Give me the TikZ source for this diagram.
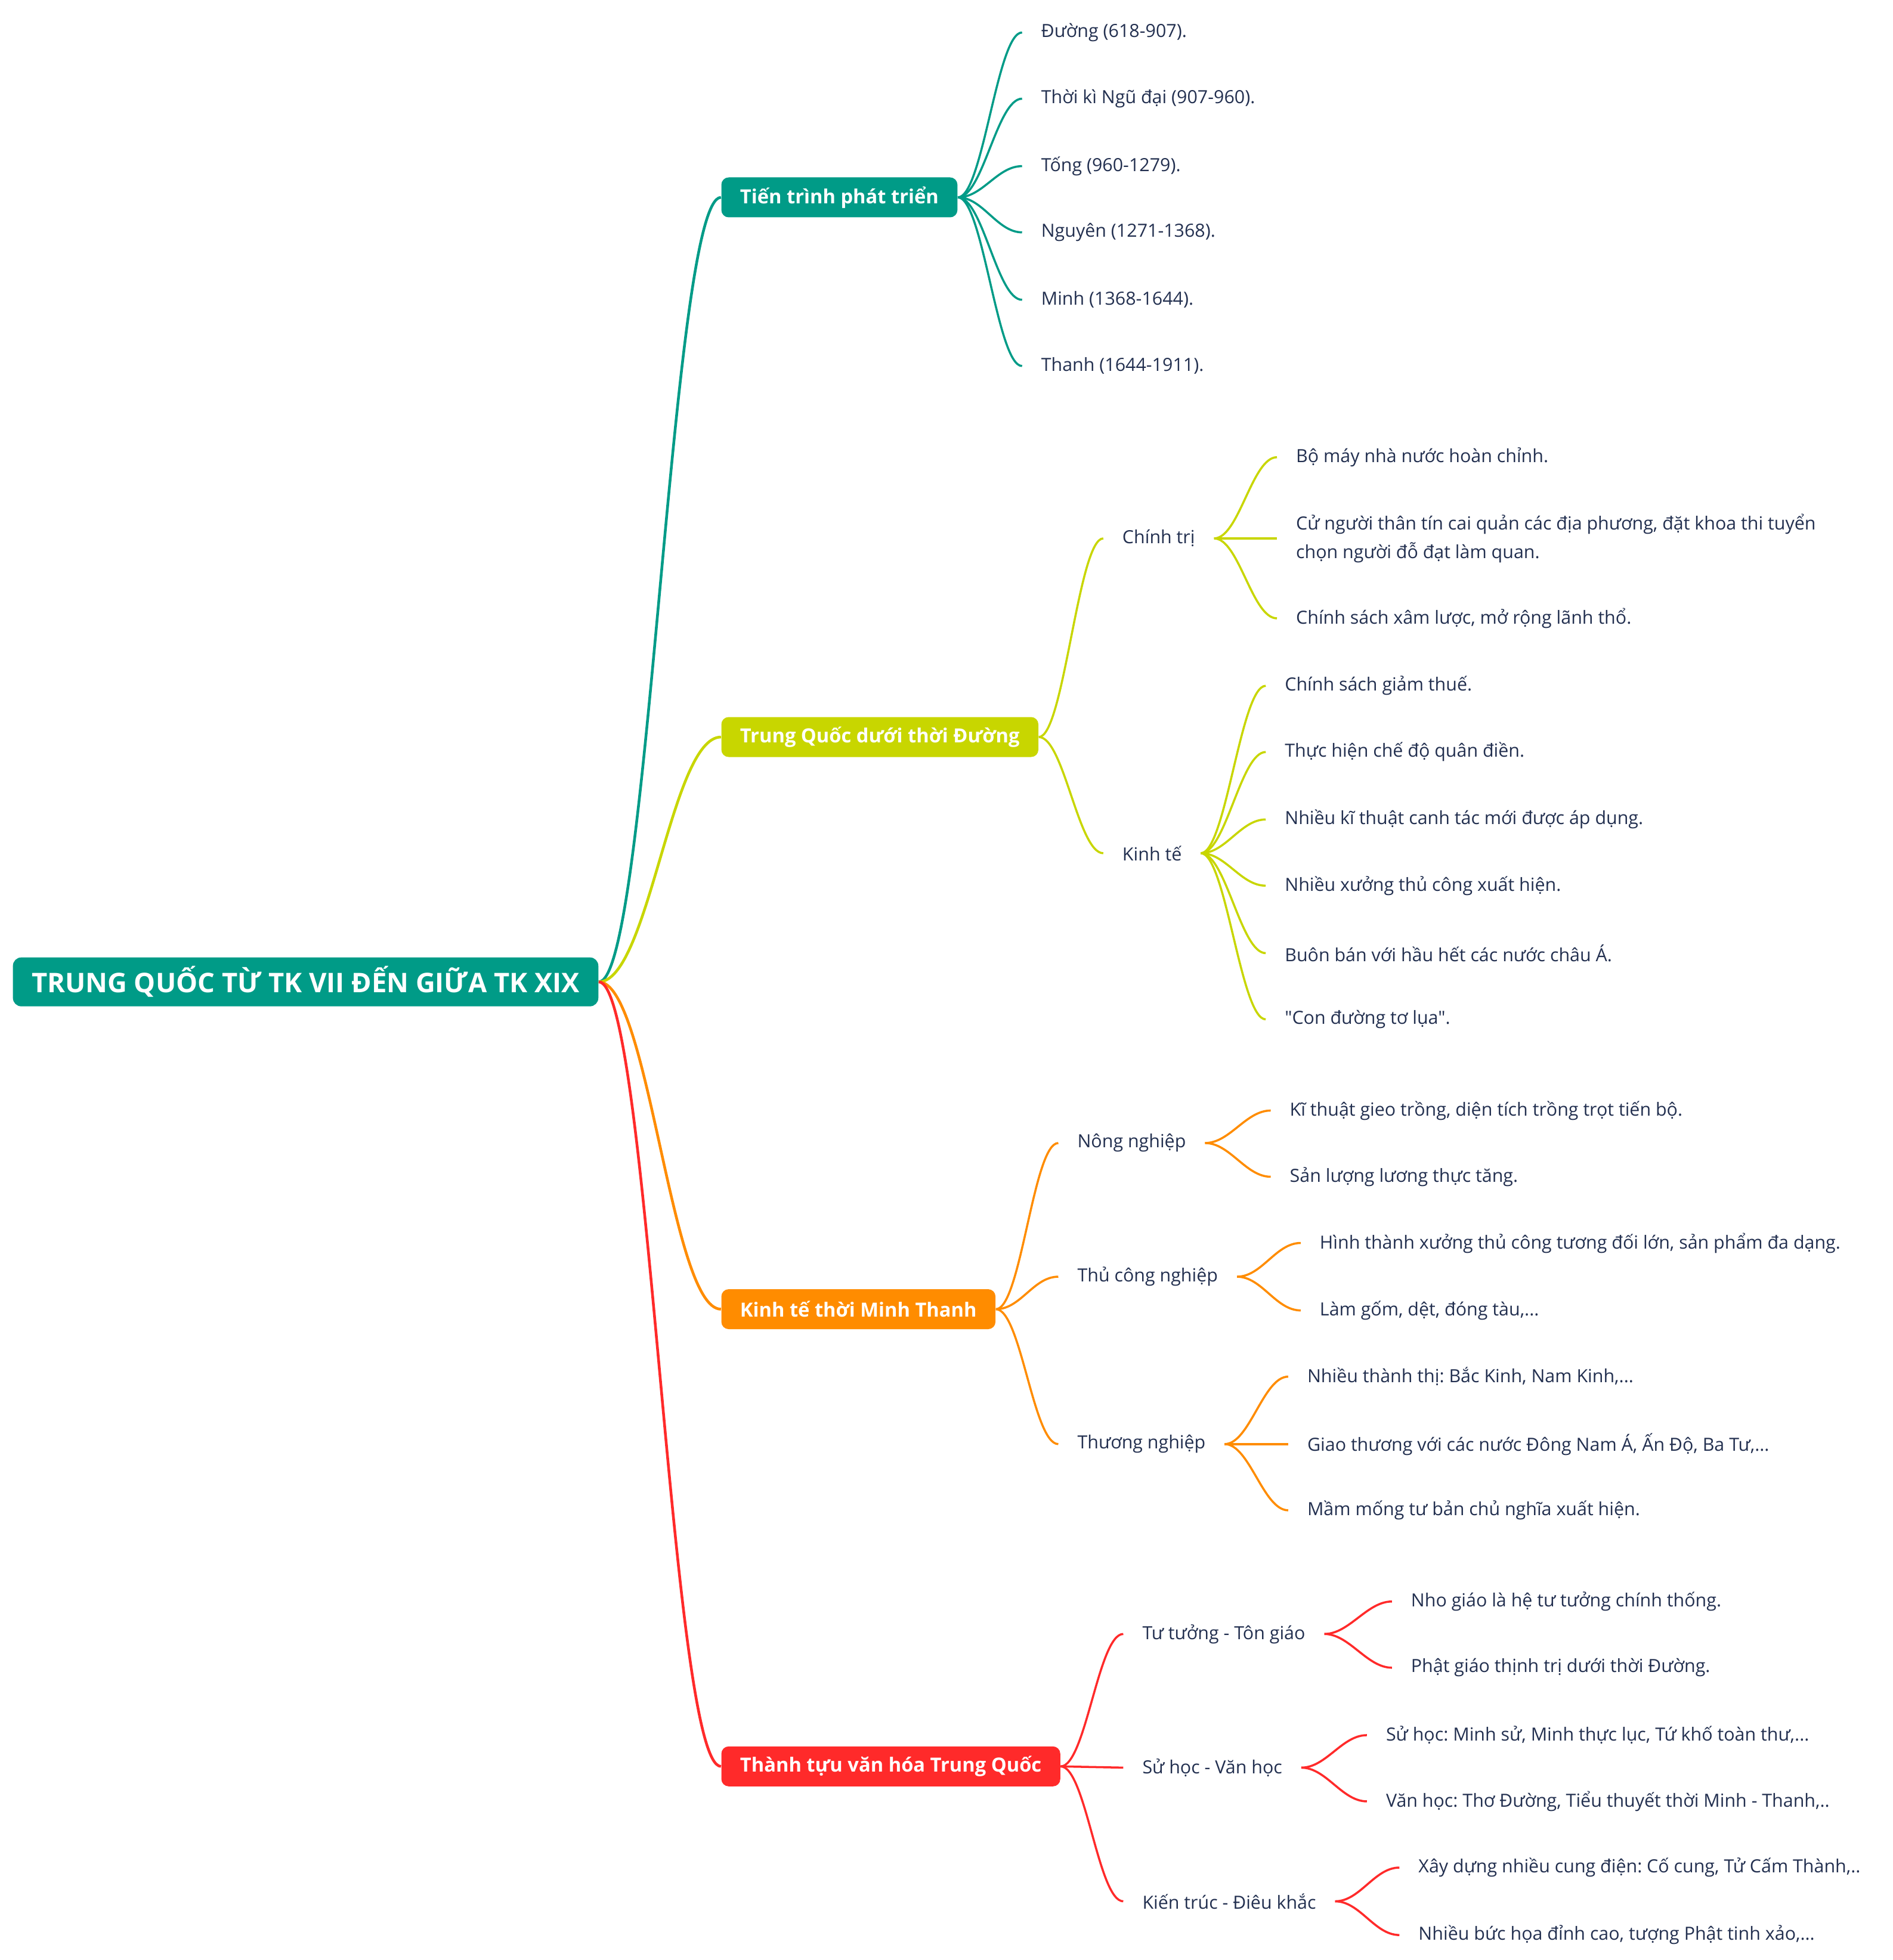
\documentclass[tikz,border=0pt]{standalone}
\usepackage{fontspec}
\setmainfont{Open Sans}[Ligatures=TeXOff]
\usepackage{tikz}
\definecolor{mtteal}{RGB}{0,155,135}
\definecolor{mtlime}{RGB}{200,214,0}
\definecolor{mtorange}{RGB}{255,140,0}
\definecolor{mtred}{RGB}{255,42,42}
\definecolor{mttext}{RGB}{35,48,80}
\frenchspacing

\begin{document}
\begin{tikzpicture}[x=0.02095cm, y=-0.02095cm,
  leaf/.style={anchor=west, text=mttext, inner xsep=0.314cm, inner ysep=1pt,
    align=left, font=\fontsize{8.65}{13.7}\selectfont},
  branch/.style={anchor=west, text=white, rounded corners=3.5pt, inner xsep=0.314cm,
    minimum height=0.67cm, font=\bfseries\fontsize{9.3}{11}\selectfont},
  rootbox/.style={anchor=west, text=white, fill=mtteal, rounded corners=4pt, inner xsep=0.314cm,
    minimum height=0.82cm, font=\bfseries\fontsize{12.9}{14}\selectfont},
  mainlink/.style={line width=1.3pt},
  sublink/.style={line width=1pt}]
 \useasboundingbox (0,0) rectangle (1515,1569);

 % centre
 \node[rootbox] (root) at (10,786) {TRUNG QUỐC TỪ TK VII ĐẾN GIỮA TK XIX};

 % main branches
 \node[branch, fill=mtteal] (tien) at (577,158) {Tiến trình phát triển};
 \node[branch, fill=mtlime] (duong) at (577,590) {Trung Quốc dưới thời Đường};
 \node[branch, fill=mtorange] (minhthanh) at (577,1048) {Kinh tế thời Minh Thanh};
 \node[branch, fill=mtred] (vanhoa) at (577,1414) {Thành tựu văn hóa Trung Quốc};

 \draw[mainlink, mtteal] (root.east) .. controls +(40,0) and +(-40,0) .. (tien.west);
 \draw[mainlink, mtlime] (root.east) .. controls +(40,0) and +(-40,0) .. (duong.west);
 \draw[mainlink, mtorange] (root.east) .. controls +(40,0) and +(-40,0) .. (minhthanh.west);
 \draw[mainlink, mtred] (root.east) .. controls +(40,0) and +(-40,0) .. (vanhoa.west);

 % Tien trinh phat trien
 \node[leaf] (t1) at (818,26) {Đường (618-907).};
 \node[leaf] (t2) at (818,79) {Thời kì Ngũ đại (907-960).};
 \node[leaf] (t3) at (818,133) {Tống (960-1279).};
 \node[leaf] (t4) at (818,186) {Nguyên (1271-1368).};
 \node[leaf] (t5) at (818,240) {Minh (1368-1644).};
 \node[leaf] (t6) at (818,293) {Thanh (1644-1911).};
 \draw[sublink, mtteal] (tien.east) .. controls +(20,0) and +(-20,0) .. (t1.west);
 \draw[sublink, mtteal] (tien.east) .. controls +(20,0) and +(-20,0) .. (t2.west);
 \draw[sublink, mtteal] (tien.east) .. controls +(20,0) and +(-20,0) .. (t3.west);
 \draw[sublink, mtteal] (tien.east) .. controls +(20,0) and +(-20,0) .. (t4.west);
 \draw[sublink, mtteal] (tien.east) .. controls +(20,0) and +(-20,0) .. (t5.west);
 \draw[sublink, mtteal] (tien.east) .. controls +(20,0) and +(-20,0) .. (t6.west);

 % Trung Quoc duoi thoi Duong
 \node[leaf] (chinhtri) at (883,431) {Chính trị};
 \node[leaf] (kinhte) at (883,683) {Kinh tế};
 \draw[sublink, mtlime] (duong.east) .. controls +(20,0) and +(-20,0) .. (chinhtri.west);
 \draw[sublink, mtlime] (duong.east) .. controls +(20,0) and +(-20,0) .. (kinhte.west);

 \node[leaf] (c1) at (1022,366) {Bộ máy nhà nước hoàn chỉnh.};
 \node[leaf] (c2) at (1022,431) {Cử người thân tín cai quản các địa phương, đặt khoa thi tuyển\\chọn người đỗ đạt làm quan.};
 \node[leaf] (c3) at (1022,495) {Chính sách xâm lược, mở rộng lãnh thổ.};
 \draw[sublink, mtlime] (chinhtri.east) .. controls +(20,0) and +(-20,0) .. (c1.west);
 \draw[sublink, mtlime] (chinhtri.east) -- (c2.west);
 \draw[sublink, mtlime] (chinhtri.east) .. controls +(20,0) and +(-20,0) .. (c3.west);

 \node[leaf] (k1) at (1013,549) {Chính sách giảm thuế.};
 \node[leaf] (k2) at (1013,602) {Thực hiện chế độ quân điền.};
 \node[leaf] (k3) at (1013,656) {Nhiều kĩ thuật canh tác mới được áp dụng.};
 \node[leaf] (k4) at (1013,709) {Nhiều xưởng thủ công xuất hiện.};
 \node[leaf] (k5) at (1013,763) {Buôn bán với hầu hết các nước châu Á.};
 \node[leaf] (k6) at (1013,816) {"Con đường tơ lụa".};
 \draw[sublink, mtlime] (kinhte.east) .. controls +(20,0) and +(-20,0) .. (k1.west);
 \draw[sublink, mtlime] (kinhte.east) .. controls +(20,0) and +(-20,0) .. (k2.west);
 \draw[sublink, mtlime] (kinhte.east) .. controls +(20,0) and +(-20,0) .. (k3.west);
 \draw[sublink, mtlime] (kinhte.east) .. controls +(20,0) and +(-20,0) .. (k4.west);
 \draw[sublink, mtlime] (kinhte.east) .. controls +(20,0) and +(-20,0) .. (k5.west);
 \draw[sublink, mtlime] (kinhte.east) .. controls +(20,0) and +(-20,0) .. (k6.west);

 % Kinh te thoi Minh Thanh
 \node[leaf] (nong) at (847,915) {Nông nghiệp};
 \node[leaf] (thucong) at (847,1022) {Thủ công nghiệp};
 \node[leaf] (thuong) at (847,1156) {Thương nghiệp};
 \draw[sublink, mtorange] (minhthanh.east) .. controls +(20,0) and +(-20,0) .. (nong.west);
 \draw[sublink, mtorange] (minhthanh.east) .. controls +(20,0) and +(-20,0) .. (thucong.west);
 \draw[sublink, mtorange] (minhthanh.east) .. controls +(20,0) and +(-20,0) .. (thuong.west);

 \node[leaf] (n1) at (1017,889) {Kĩ thuật gieo trồng, diện tích trồng trọt tiến bộ.};
 \node[leaf] (n2) at (1017,942) {Sản lượng lương thực tăng.};
 \draw[sublink, mtorange] (nong.east) .. controls +(20,0) and +(-20,0) .. (n1.west);
 \draw[sublink, mtorange] (nong.east) .. controls +(20,0) and +(-20,0) .. (n2.west);

 \node[leaf] (h1) at (1041,995) {Hình thành xưởng thủ công tương đối lớn, sản phẩm đa dạng.};
 \node[leaf] (h2) at (1041,1049) {Làm gốm, dệt, đóng tàu,...};
 \draw[sublink, mtorange] (thucong.east) .. controls +(20,0) and +(-20,0) .. (h1.west);
 \draw[sublink, mtorange] (thucong.east) .. controls +(20,0) and +(-20,0) .. (h2.west);

 \node[leaf] (g1) at (1031,1102) {Nhiều thành thị: Bắc Kinh, Nam Kinh,...};
 \node[leaf] (g2) at (1031,1156) {Giao thương với các nước Đông Nam Á, Ấn Độ, Ba Tư,...};
 \node[leaf] (g3) at (1031,1209) {Mầm mống tư bản chủ nghĩa xuất hiện.};
 \draw[sublink, mtorange] (thuong.east) .. controls +(20,0) and +(-20,0) .. (g1.west);
 \draw[sublink, mtorange] (thuong.east) -- (g2.west);
 \draw[sublink, mtorange] (thuong.east) .. controls +(20,0) and +(-20,0) .. (g3.west);

 % Thanh tuu van hoa
 \node[leaf] (tutuong) at (899,1308) {Tư tưởng - Tôn giáo};
 \node[leaf] (suhoc) at (899,1415) {Sử học - Văn học};
 \node[leaf] (kientruc) at (899,1522) {Kiến trúc - Điêu khắc};
 \draw[sublink, mtred] (vanhoa.east) .. controls +(20,0) and +(-20,0) .. (tutuong.west);
 \draw[sublink, mtred] (vanhoa.east) -- (suhoc.west);
 \draw[sublink, mtred] (vanhoa.east) .. controls +(20,0) and +(-20,0) .. (kientruc.west);

 \node[leaf] (v1) at (1114,1282) {Nho giáo là hệ tư tưởng chính thống.};
 \node[leaf] (v2) at (1114,1335) {Phật giáo thịnh trị dưới thời Đường.};
 \draw[sublink, mtred] (tutuong.east) .. controls +(20,0) and +(-20,0) .. (v1.west);
 \draw[sublink, mtred] (tutuong.east) .. controls +(20,0) and +(-20,0) .. (v2.west);

 \node[leaf] (s1) at (1094,1389) {Sử học: Minh sử, Minh thực lục, Tứ khố toàn thư,...};
 \node[leaf] (s2) at (1094,1442) {Văn học: Thơ Đường, Tiểu thuyết thời Minh - Thanh,..};
 \draw[sublink, mtred] (suhoc.east) .. controls +(20,0) and +(-20,0) .. (s1.west);
 \draw[sublink, mtred] (suhoc.east) .. controls +(20,0) and +(-20,0) .. (s2.west);

 \node[leaf] (a1) at (1120,1495) {Xây dựng nhiều cung điện: Cố cung, Tử Cấm Thành,..};
 \node[leaf] (a2) at (1120,1549) {Nhiều bức họa đỉnh cao, tượng Phật tinh xảo,...};
 \draw[sublink, mtred] (kientruc.east) .. controls +(20,0) and +(-20,0) .. (a1.west);
 \draw[sublink, mtred] (kientruc.east) .. controls +(20,0) and +(-20,0) .. (a2.west);
\end{tikzpicture}
\end{document}
